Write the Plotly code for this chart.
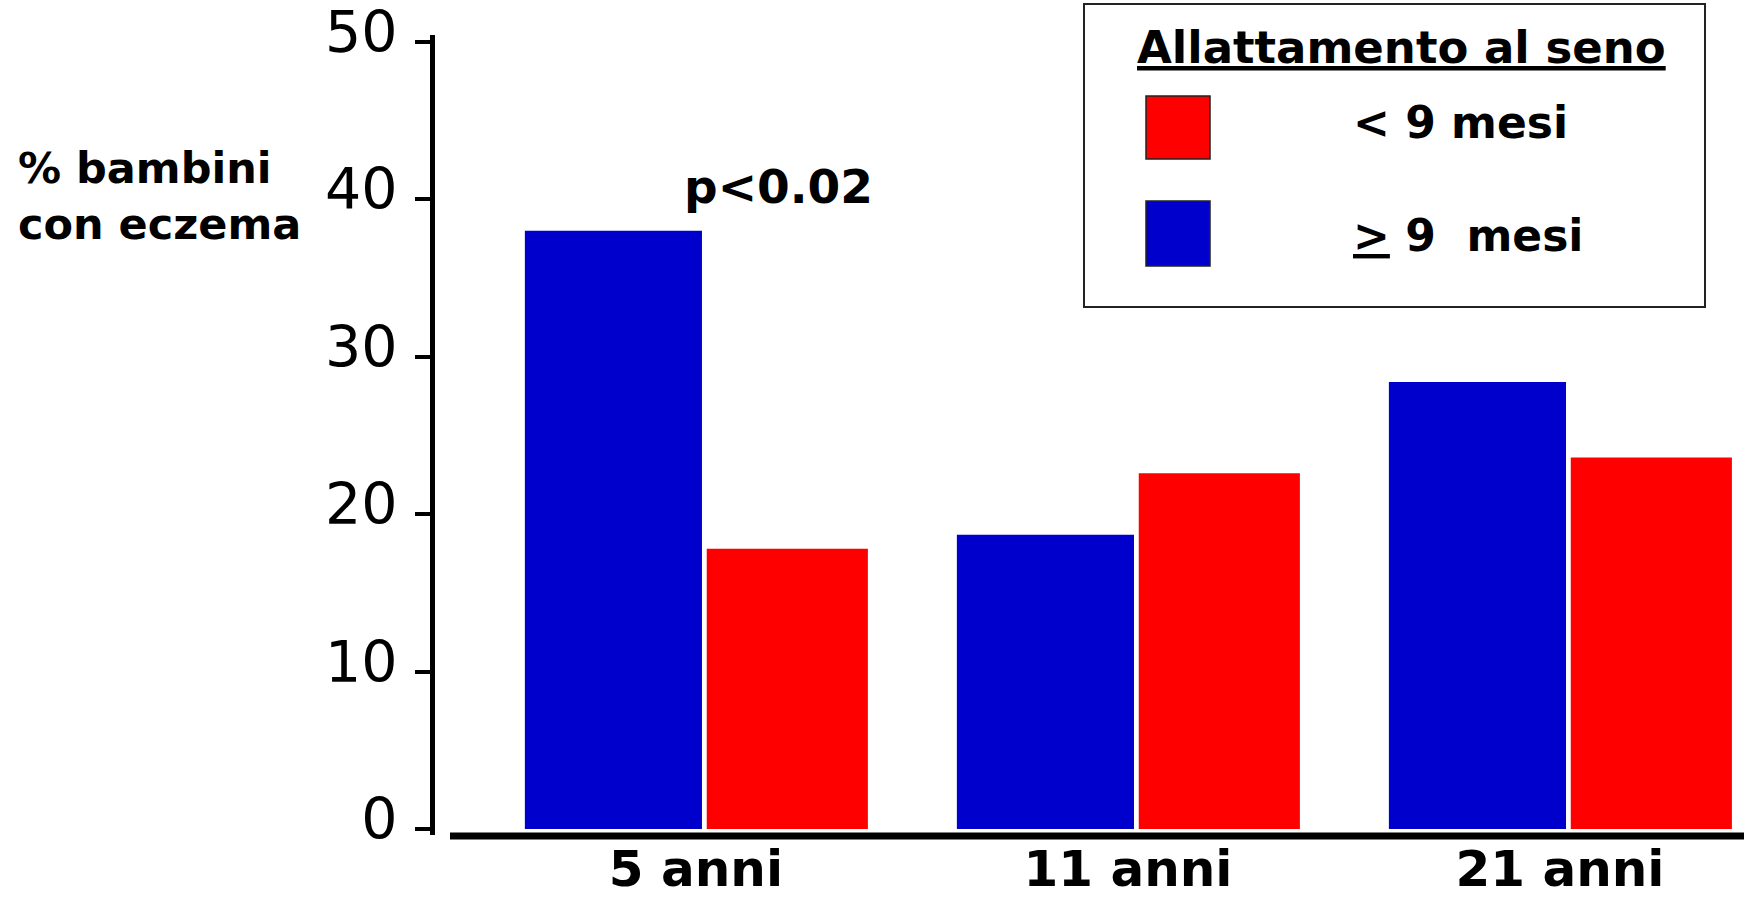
import plotly.graph_objects as go

# ---- data ----
categories = ["5 anni", "11 anni", "21 anni"]
long_bf = [38.0, 18.7, 28.4]     # >= 9 mesi (blue)
short_bf = [17.8, 22.6, 23.6]    # < 9 mesi (red)
y_ticks = [0, 10, 20, 30, 40, 50]
legend_title = "Allattamento al seno"
label_short = "&lt; 9 mesi"
label_long = "<u>&gt;</u> 9\u00a0\u00a0mesi"
y_title = "% bambini<br>con eczema"
p_text = "p<0.02"

BLUE = "#0000CC"
RED = "#FF0000"
FONT = "'DejaVu Sans', 'Comic Sans MS', sans-serif"

W, H = 1744, 900
ML, MR, MT, MB = 435, 0, 35, 65
PW, PH = W - ML - MR, H - MT - MB


def px_x(x):
    return (x - ML) / PW


def px_y(y):
    return (H - MB - y) / PH


fig = go.Figure()
fig.add_trace(go.Bar(x=categories, y=long_bf, name="≥ 9 mesi",
                     marker=dict(color=BLUE, line=dict(width=0)),
                     width=0.41, offset=-0.396, showlegend=False))
fig.add_trace(go.Bar(x=categories, y=short_bf, name="< 9 mesi",
                     marker=dict(color=RED, line=dict(width=0)),
                     width=0.373, offset=0.025, showlegend=False))

shapes = [
    # x axis baseline
    dict(type="line", xref="paper", yref="paper", x0=px_x(450), x1=1.0,
         y0=px_y(836), y1=px_y(836), line=dict(color="black", width=7)),
    # legend box
    dict(type="rect", xref="paper", yref="paper", x0=px_x(1084), x1=px_x(1705),
         y0=px_y(4), y1=px_y(307), line=dict(color="#222222", width=2),
         fillcolor="white", layer="below"),
    dict(type="rect", xref="paper", yref="paper", x0=px_x(1146), x1=px_x(1210),
         y0=px_y(96), y1=px_y(159), line=dict(color="#222222", width=1.5),
         fillcolor=RED),
    dict(type="rect", xref="paper", yref="paper", x0=px_x(1146), x1=px_x(1210),
         y0=px_y(201), y1=px_y(266), line=dict(color="#222222", width=1.5),
         fillcolor=BLUE),
]

annotations = [
    dict(text="<b>" + y_title + "</b>", xref="paper", yref="paper",
         x=px_x(16), y=px_y(196), xanchor="left", yanchor="middle",
         align="left", showarrow=False,
         font=dict(family=FONT, size=43, color="black")),
    dict(text="<b>" + p_text + "</b>", xref="x", yref="y",
         x=0.19, y=40.8, xanchor="center", yanchor="middle", showarrow=False,
         font=dict(family=FONT, size=47, color="black")),
    dict(text="<b><u>" + legend_title + "</u></b>", xref="paper", yref="paper",
         x=px_x(1401), y=px_y(48), xanchor="center", yanchor="middle",
         showarrow=False, font=dict(family=FONT, size=45, color="black")),
    dict(text="<b>" + label_short + "</b>", xref="paper", yref="paper",
         x=px_x(1351), y=px_y(122), xanchor="left", yanchor="middle",
         showarrow=False, font=dict(family=FONT, size=44, color="black")),
    dict(text="<b>" + label_long + "</b>", xref="paper", yref="paper",
         x=px_x(1351), y=px_y(236), xanchor="left", yanchor="middle",
         showarrow=False, font=dict(family=FONT, size=44, color="black")),
]

fig.update_layout(
    width=W, height=H,
    margin=dict(l=ML, r=MR, t=MT, b=MB, pad=0, autoexpand=False),
    paper_bgcolor="white", plot_bgcolor="white",
    barmode="group",
    shapes=shapes, annotations=annotations,
    font=dict(family=FONT, color="black"),
    xaxis=dict(type="category", range=[-0.604, 2.426], showline=False,
               showgrid=False, zeroline=False, ticks="", automargin=False,
               tickfont=dict(family=FONT, size=50, color="black"),
               tickprefix="<b>", ticksuffix="</b>", ticklabelstandoff=0),
    yaxis=dict(range=[-0.38, 50.44], tickvals=y_ticks, showgrid=False,
               zeroline=False, showline=True, linecolor="black", linewidth=5,
               ticks="outside", ticklen=15, tickwidth=4, tickcolor="black",
               automargin=False, ticklabeloverflow="allow",
               tickfont=dict(family=FONT, size=57, color="black"),
               ticklabelstandoff=6, ticklabelshift=-10),
)

fig.write_html("out.html")
